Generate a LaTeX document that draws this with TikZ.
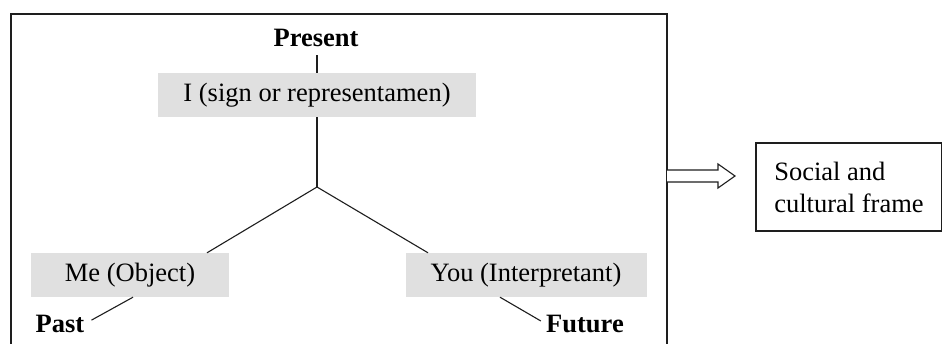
\documentclass[tikz,border=0pt]{standalone}
\usepackage{fontspec}
\setmainfont{Liberation Serif}
\begin{document}
\begin{tikzpicture}[x=1pt,y=-1pt,
  every node/.style={font=\fontsize{26.5}{32}\selectfont},
  graybox/.style={fill=boxgray, inner sep=0pt, minimum height=44pt},
  tlabel/.style={font=\fontsize{26.5}{32}\selectfont\bfseries, inner sep=0pt},
  link/.style={draw=linecol, line width=1.1pt}]
\definecolor{boxgray}{RGB}{224,224,224}
\definecolor{linecol}{RGB}{30,30,30}
\useasboundingbox (0,0) rectangle (942,343);
\clip (0,0) rectangle (942,343);
\fill[white] (0,0) rectangle (942,343);
% outer frame
\draw[linecol, line width=1.6pt] (11,360) -- (11,14) -- (667,14) -- (667,360);
\draw[linecol, line width=2.6pt] (10,14) -- (668,14);
% nodes
\node[tlabel] (present) at (316,38) {Present};
\node[graybox, minimum width=318pt] (isign) at (317,95) {I (sign or representamen)};
\coordinate (junction) at (317,187);
\node[graybox, minimum width=198pt] (me) at (130,275) {Me (Object)};
\node[graybox, minimum width=241pt] (you) at (526,275) {You (Interpretant)};
\node[tlabel] (past) at (60,324) {Past};
\node[tlabel] (future) at (585,324) {Future};
\node[draw=linecol, line width=1.2pt, minimum width=186pt, minimum height=88pt,
      align=left, inner sep=0pt] (social) at (849,187)
      {Social and\\cultural frame};
% connectors
\draw[link, shorten <=8pt] (present.south -| isign.north) -- (isign.north);
\draw[link] (isign.south) -- (junction);
\draw[link] (junction) -- ([xshift=77pt]me.north);
\draw[link] (junction) -- ([xshift=-98pt]you.north);
\draw[link, shorten >=8pt] ([xshift=3pt]me.south) -- (past.east);
\draw[link, shorten >=6pt] ([xshift=-26pt]you.south) -- (future.west);
% outlined arrow
\draw[linecol, line width=1.1pt, fill=white]
  (667,170) -- (718,170) -- (718,164) -- (735,176) -- (718,188) -- (718,182) -- (667,182);
\end{tikzpicture}
\end{document}
